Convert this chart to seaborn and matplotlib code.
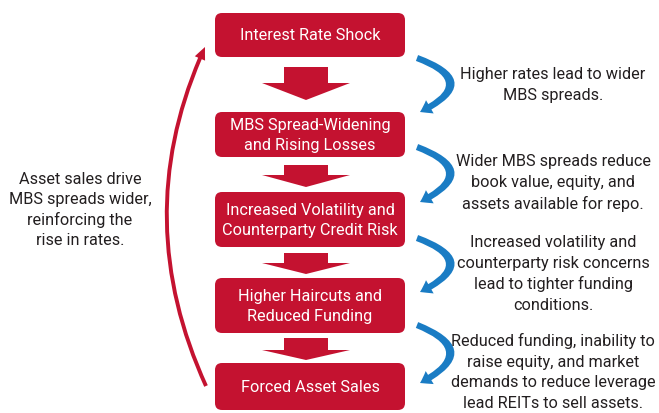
import matplotlib
matplotlib.use("Agg")
import matplotlib.pyplot as plt
import seaborn as sns
from matplotlib.patches import FancyBboxPatch, Polygon, FancyArrowPatch
from matplotlib.path import Path

# flow steps (top to bottom)
steps = [
    "Interest Rate Shock",
    "MBS Spread-Widening\nand Rising Losses",
    "Increased Volatility and\nCounterparty Credit Risk",
    "Higher Haircuts and\nReduced Funding",
    "Forced Asset Sales",
]
# explanation next to each transition
notes = [
    "Higher rates lead to wider\nMBS spreads.",
    "Wider MBS spreads reduce\nbook value, equity, and\nassets available for repo.",
    "Increased volatility and\ncounterparty risk concerns\nlead to tighter funding\nconditions.",
    "Reduced funding, inability to\nraise equity, and market\ndemands to reduce leverage\nlead REITs to sell assets.",
]
feedback_note = "Asset sales drive\nMBS spreads wider,\nreinforcing the\nrise in rates."

RED = "#c41230"
BLUE = "#1a7cc4"
TXT = "#231f20"

sns.set_theme(style="white")
plt.rcParams["font.family"] = ["Roboto", "DejaVu Sans"]
plt.rcParams["font.stretch"] = "condensed"

fig = plt.figure(figsize=(6.59, 4.13), dpi=100)
ax = fig.add_axes([0, 0, 1, 1])
ax.set_xlim(0, 659)
ax.set_ylim(413, 0)
ax.axis("off")

# box layout (pixels)
box_top = [13, 112, 192, 278, 363]
box_bot = [57, 157, 247, 333, 410]
bx0, bx1 = 215, 405
for label, t, b in zip(steps, box_top, box_bot):
    ax.add_patch(FancyBboxPatch((bx0, t), bx1 - bx0, b - t,
                                boxstyle="round,pad=0,rounding_size=7",
                                fc=RED, ec="none"))
    ax.text((bx0 + bx1) / 2, (t + b) / 2 + 1, label, color="white",
            ha="center", va="center", fontsize=11.7, linespacing=1.42)

# block arrows between boxes
arrows = [(67, 83, 100), (165, 175, 187), (253, 263, 274), (338, 350, 360)]
for top, neck, tip in arrows:
    cx = 306
    pts = [(cx - 22, top), (cx + 22, top), (cx + 22, neck), (cx + 44, neck),
           (cx, tip), (cx - 44, neck), (cx - 22, neck)]
    ax.add_patch(Polygon(pts, closed=True, fc=RED, ec="none"))

# blue curved arrows + notes
blue_spans = [(58, 112), (147, 202), (238, 292), (325, 383)]
note_y = [85, 183, 274, 372]
for (y0, y1), note, ny in zip(blue_spans, notes, note_y):
    path = Path([(417, y0), (482, (y0 + y1) / 2 - 3), (420, y1)],
                [Path.MOVETO, Path.CURVE3, Path.CURVE3])
    ax.add_patch(FancyArrowPatch(path=path, color=BLUE, lw=0,
                                 arrowstyle="simple,head_length=8,head_width=11,tail_width=4.5"))
    ax.text(553, ny, note, color=TXT, ha="center", va="center",
            fontsize=11.7, linespacing=1.45)

# red feedback arrow on the left
path = Path([(206, 386), (128, 215), (205, 47)],
            [Path.MOVETO, Path.CURVE3, Path.CURVE3])
ax.add_patch(FancyArrowPatch(path=path, color=RED, lw=0,
                             arrowstyle="simple,head_length=9,head_width=8,tail_width=2.8"))
ax.text(80, 210, feedback_note, color=TXT, ha="center", va="center",
        fontsize=11.7, linespacing=1.42)

fig.savefig("out.png", dpi=100)
